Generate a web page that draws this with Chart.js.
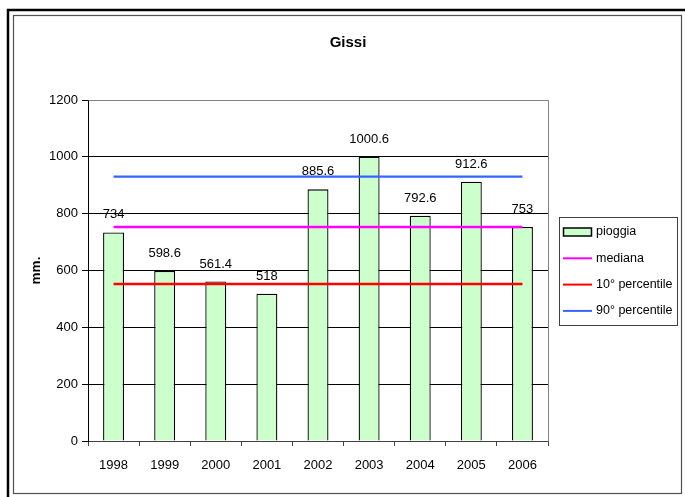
<!DOCTYPE html>
<html>
<head>
<meta charset="utf-8">
<script src="https://cdn.jsdelivr.net/npm/chart.js@4/dist/chart.umd.min.js"></script>
<style>
  html, body { margin: 0; padding: 0; background: #fff; }
  canvas { display: block; }
</style>
</head>
<body>
<canvas id="c" width="685" height="497"></canvas>
<script>
// Annual rainfall at Gissi with reference lines
const years = ['1998', '1999', '2000', '2001', '2002', '2003', '2004', '2005', '2006'];
const pioggia = [734, 598.6, 561.4, 518, 885.6, 1000.6, 792.6, 912.6, 753];
const mediana = [753, 753, 753, 753, 753, 753, 753, 753, 753];
const perc10 = [552.7, 552.7, 552.7, 552.7, 552.7, 552.7, 552.7, 552.7, 552.7];
const perc90 = [930.2, 930.2, 930.2, 930.2, 930.2, 930.2, 930.2, 930.2, 930.2];
const yMin = 0, yMax = 1200, yStep = 200;
const chartTitle = 'Gissi';
const yTitle = 'mm.';

const FONT = "'Liberation Sans', Arial, sans-serif";

// Page frame, title, data labels, plot border and legend
const decor = {
  id: 'decor',
  beforeDraw(chart) {
    const ctx = chart.ctx;
    ctx.save();
    ctx.fillStyle = '#fff';
    ctx.fillRect(0, 0, chart.width, chart.height);
    ctx.restore();
  },
  afterDatasetsDraw(chart) {
    const ctx = chart.ctx;
    const area = chart.chartArea;
    ctx.save();
    // plot area border (top and right)
    ctx.strokeStyle = '#808080';
    ctx.lineWidth = 1;
    ctx.beginPath();
    ctx.moveTo(Math.round(area.left) + 0.5, Math.round(area.top) + 0.5);
    ctx.lineTo(Math.round(area.right) + 0.5, Math.round(area.top) + 0.5);
    ctx.lineTo(Math.round(area.right) + 0.5, Math.round(area.bottom) + 0.5);
    ctx.stroke();

    // value labels above each bar
    const meta = chart.getDatasetMeta(0);
    ctx.fillStyle = '#000';
    ctx.font = '13px ' + FONT;
    ctx.textAlign = 'center';
    ctx.textBaseline = 'middle';
    meta.data.forEach((bar, i) => {
      ctx.fillText(String(pioggia[i]), bar.x, bar.y - 17.5);
    });

    // chart title
    ctx.font = 'bold 15px ' + FONT;
    ctx.fillText(chartTitle, 348, 42.5);

    // legend
    const lx = 559, ly = 217, lw = 118, lh = 108;
    ctx.strokeStyle = '#404040';
    ctx.lineWidth = 1;
    ctx.strokeRect(lx + 0.5, ly + 0.5, lw, lh);
    ctx.font = '12.5px ' + FONT;
    ctx.textAlign = 'left';
    chart.data.datasets.forEach((ds, i) => {
      const cy = 232 + i * 26.3;
      if (ds.type === 'bar') {
        ctx.fillStyle = ds.backgroundColor;
        ctx.fillRect(563.5, cy - 4, 28, 8);
        ctx.strokeStyle = '#000';
        ctx.lineWidth = 1.5;
        ctx.strokeRect(563.5, cy - 4, 28, 8);
      } else {
        ctx.strokeStyle = ds.borderColor;
        ctx.lineWidth = 2;
        ctx.beginPath();
        ctx.moveTo(563, cy);
        ctx.lineTo(592, cy);
        ctx.stroke();
      }
      ctx.fillStyle = '#000';
      ctx.fillText(ds.label, 596, cy);
    });

    // page frame
    ctx.strokeStyle = '#000';
    ctx.lineWidth = 2.5;
    ctx.beginPath();
    ctx.moveTo(8, 497);
    ctx.lineTo(8, 10);
    ctx.lineTo(685, 10);
    ctx.stroke();
    ctx.strokeStyle = '#505050';
    ctx.lineWidth = 1.2;
    ctx.strokeRect(13.5, 15.5, 668, 478);
    ctx.restore();
  }
};

const lineDs = (label, data, color) => ({
  type: 'line',
  label,
  data,
  borderColor: color,
  backgroundColor: color,
  borderWidth: 2.4,
  pointRadius: 0,
  pointHoverRadius: 0,
  fill: false,
  order: 0
});

new Chart(document.getElementById('c'), {
  data: {
    labels: years,
    datasets: [
      {
        type: 'bar',
        label: 'pioggia',
        data: pioggia,
        backgroundColor: '#CCFFCC',
        borderColor: '#000',
        borderWidth: 1.3,
        categoryPercentage: 1,
        barPercentage: 0.41,
        order: 1
      },
      lineDs('mediana', mediana, '#FF00FF'),
      lineDs('10° percentile', perc10, '#FF0000'),
      lineDs('90° percentile', perc90, '#3366FF')
    ]
  },
  options: {
    responsive: false,
    animation: false,
    layout: { padding: { top: 100, right: 137, bottom: 0, left: 0 } },
    plugins: {
      legend: { display: false },
      title: { display: false },
      tooltip: { enabled: false }
    },
    scales: {
      x: {
        offset: true,
        grid: { drawOnChartArea: false, drawTicks: true, tickLength: 5, color: '#404040', offset: true },
        border: { color: '#404040', width: 1 },
        ticks: { color: '#000', font: { family: FONT, size: 13 }, padding: 12, maxRotation: 0 },
        afterFit(scale) { scale.height = 56; }
      },
      y: {
        min: yMin,
        max: yMax,
        ticks: {
          stepSize: yStep,
          color: '#000',
          font: { family: FONT, size: 13 },
          padding: 4,
          callback: (v) => String(v)
        },
        grid: { color: '#000', lineWidth: 1, tickLength: 6 },
        border: { color: '#000', width: 1 },
        title: {
          display: true,
          text: yTitle,
          color: '#000',
          font: { family: FONT, size: 13.5, weight: 'bold' },
          padding: { top: 28, bottom: 0 }
        },
        afterFit(scale) { scale.width = 88; }
      }
    }
  },
  plugins: [decor]
});
</script>
</body>
</html>
